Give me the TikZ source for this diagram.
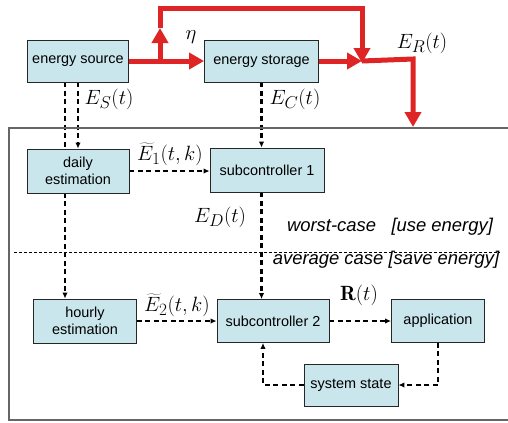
\documentclass[tikz,border=0pt]{standalone}
\usepackage{fontspec}
\setsansfont{Liberation Sans}
\usetikzlibrary{arrows.meta,backgrounds}
\DeclareMathSizes{20.74}{20.74}{17.28}{14.4}
\definecolor{boxblue}{RGB}{201,230,236}
\definecolor{flowred}{RGB}{222,36,36}
\tikzstyle{box}=[draw=black!85, line width=0.9pt, fill=boxblue, minimum height=42bp, inner sep=2pt, align=center, font=\sffamily\fontsize{14.5}{17.5}\selectfont]
\tikzstyle{flow}=[draw=flowred, line width=5bp, -{Triangle[length=15bp,width=16bp]}]
\tikzstyle{info}=[dash pattern=on 5bp off 3.5bp, line width=2.3bp, -{Latex[length=6bp,width=5.5bp]}]
\tikzstyle{lbl}=[inner sep=0pt, font=\fontsize{20.74}{25}\selectfont]
\tikzstyle{mode}=[inner sep=0pt, font=\sffamily\itshape\fontsize{18.5}{22}\selectfont]

\begin{document}
\begin{tikzpicture}[x=1bp, y=-1bp]
\useasboundingbox (0,0) rectangle (508,422);
%frame
\draw[black!60, line width=1.3bp] (512,128) -- (9,128) -- (9,420) -- (512,420);
\draw[dash pattern=on 3bp off 2bp, line width=1bp] (14,252) -- (500,252);
\node[mode] (worst) at (390,227) {worst-case~~ [use energy]};
\node[mode] (avg) at (386,260) {average case [save energy]};
%energy part
\node[box, minimum width=101bp] (src) at (78,61) {energy source};
\node[box, minimum width=114bp] (stor) at (261.5,61) {energy storage};
%begin controller
\node[box, minimum width=102bp, minimum height=44bp] (daily) at (78,171) {daily\\estimation};
\node[box, minimum width=114bp, minimum height=44bp] (sub1) at (267,170) {subcontroller 1};
\node[box, minimum width=103bp, minimum height=44bp] (hourly) at (85,321) {hourly\\estimation};
\node[box, minimum width=112bp, minimum height=43bp] (sub2) at (273,321) {subcontroller 2};
\node[box, minimum width=93bp, minimum height=43bp] (app) at (438,321) {application};
\node[box, minimum width=94bp] (sys) at (351,385) {system state};
%end controller
%red energy flow
\coordinate (split) at (160,61);
\coordinate (uptip) at (160,28);
\coordinate (merge) at (362,61);
\coordinate (sink) at (413,127);
\draw[flow] (src.east) -- (stor.west);
\draw[flow] (split) -- (uptip);
\draw[flow] (uptip) -- (160,8) -- (362,8) -- ([yshift=-2bp]merge);
\draw[flow] (stor.east) -- (merge);
\draw[flow] (merge) -- (413,59) -- (sink);
\node[lbl] (eta) at (191,37) {$\eta$};
\node[lbl] (er) at (422,43) {$E_R(t)$};
%dashed information flow
\begin{scope}[on background layer]
\draw[info] ([xshift=-13bp]src.south) -- ([xshift=-13bp]src.south |- hourly.north);
\draw[info] (src.south) -- (src.south |- daily.north);
\draw[info] (stor.south) -- (stor.south |- sub1.north);
\draw[info] (stor.south |- sub1.south) -- (stor.south |- sub2.north);
\draw[info] (daily.east) -- (daily.east -| sub1.west);
\draw[info] (hourly.east) -- (hourly.east -| sub2.west);
\draw[info] (sub2.east) -- (app.west);
\draw[info] (app.south) |- (sys.east);
\draw[info] (sys.west) -| ([xshift=-10bp]sub2.south);
\end{scope}
\node[lbl] (es) at (109,99) {$E_S(t)$};
\node[lbl] (ec) at (295,99) {$E_C(t)$};
\node[lbl] (ed) at (220,217) {$E_D(t)$};
\node[lbl] (e1) at (170,154) {$\widetilde{E}_1(t,k)$};
\node[lbl] (e2) at (177,305) {$\widetilde{E}_2(t,k)$};
\node[lbl] (rt) at (359,295) {$\mathbf{R}(t)$};
\end{tikzpicture}
\end{document}
